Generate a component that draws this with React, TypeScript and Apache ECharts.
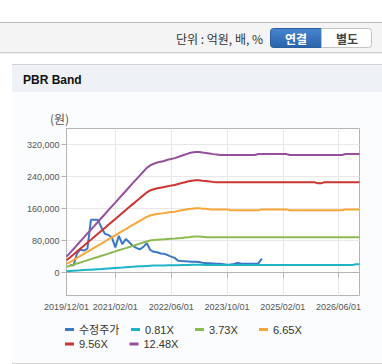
import React, { useEffect, useRef } from "react";
import * as echarts from "echarts";

// ---- categories: monthly from 2019/12 to 2026/12 ----
const START_YEAR = 2019;
const START_MONTH = 12;
const MONTH_COUNT = 85;
const CATEGORIES: string[] = [];
for (let i = 0; i < MONTH_COUNT; i++) {
  const idx = START_MONTH - 1 + i;
  const y = START_YEAR + Math.floor(idx / 12);
  const m = (idx % 12) + 1;
  CATEGORIES.push(`${y}/${m < 10 ? "0" + m : m}/01`);
}

const X_TICK_LABELS = ["2019/12/01", "2021/02/01", "2022/06/01", "2023/10/01", "2025/02/01", "2026/06/01"];
const Y_TICKS = [0, 80000, 160000, 240000, 320000];
const SERIES_NAMES = ["수정주가", "0.81X", "3.73X", "6.65X", "9.56X", "12.48X"];
const COLORS = ["#3a78c6", "#1fb3c6", "#8dbb52", "#f6a737", "#cc3530", "#954f9c"];

const PRICE = [null, 20000, 18000, 48000, 58000, 55000, 60000, 132000, 132000, 132000,
  113000, 97000, 94000, 88000, 63000, 92000, 71000, 84000, 76000, 67000,
  62000, 58000, 64000, 74000, 57000, 52000, 51000, 48000, 47000, 44000,
  40000, 37000, 30000, 29000, 28500, 28000, 27500, 27000, 26500, 25000,
  24000, 23500, 23000, 22500, 22000, 21000, 20000, 20500, 22000, 24000,
  23000, 22500, 22500, 22500, 22500, 23000, 35000];

const BAND_081 = [3500, 4100, 4700, 5300, 5800, 6400, 7000, 7600, 8200, 8800,
  9300, 9900, 10500, 11100, 11700, 12300, 12800, 13400, 14000, 14600,
  15200, 15800, 16300, 16900, 17500, 17700, 17900, 18000, 18100, 18300,
  18400, 18600, 18800, 19000, 19200, 19400, 19500, 19600, 19600, 19500,
  19200, 19200, 19200, 19200, 19200, 19200, 19200, 19200, 19200, 19200,
  19200, 19200, 19200, 19200, 19200, 19200, 19200, 19200, 19200, 19200,
  19200, 19200, 19200, 19200, 19200, 19200, 19200, 19200, 19200, 19200,
  19200, 19200, 19200, 19200, 19200, 19200, 19200, 19200, 19200, 19200,
  19200, 19200, 19200, 21000, 21000];

const BAND_373 = [14500, 17300, 20000, 22800, 25500, 28300, 31100, 33800, 36600, 39300,
  42100, 44900, 47600, 50400, 53100, 55900, 58700, 61400, 64200, 66900,
  69700, 72500, 75200, 78000, 80500, 81500, 82300, 82900, 83400, 84000,
  84600, 85100, 85900, 86700, 87600, 88500, 89500, 90500, 90500, 89500,
  88500, 88500, 88500, 88500, 88500, 88500, 88500, 88500, 88500, 88500,
  88500, 88500, 88500, 88500, 88500, 88500, 88500, 88500, 88500, 88500,
  88500, 88500, 88500, 88500, 88500, 88500, 88500, 88500, 88500, 88500,
  88500, 88500, 88500, 88500, 88500, 88500, 88500, 88500, 88500, 88500,
  88500, 88500, 88500, 88500, 88500];

const BAND_665 = [22000, 26400, 31400, 36800, 41800, 46900, 52200, 57300, 62400, 67700,
  72800, 77800, 83100, 88200, 93300, 98600, 103700, 108700, 114100, 119100,
  124200, 129300, 134300, 139400, 142800, 145000, 146600, 147600, 148700, 150300,
  151400, 152400, 154000, 155600, 157200, 158800, 159900, 160700, 160700, 159900,
  159400, 158600, 158000, 158000, 158000, 158000, 158000, 156000, 156000, 156000,
  156000, 156000, 156000, 156000, 156000, 156000, 158000, 158000, 158000, 158000,
  158000, 158000, 158000, 158000, 156000, 156000, 156000, 156000, 156000, 156000,
  156000, 156000, 156000, 156000, 156000, 156000, 156000, 156000, 156000, 156000,
  158000, 158000, 158000, 158000, 158000];

const BAND_956 = [31000, 37900, 45200, 52900, 60100, 67400, 75100, 82300, 89600, 97300,
  104600, 111800, 119500, 126800, 134000, 141700, 149000, 156300, 163900, 171200,
  178500, 185800, 193000, 200300, 205300, 208400, 210700, 212200, 213700, 216000,
  217500, 219100, 221400, 223700, 226000, 228300, 229800, 230900, 230900, 229800,
  229000, 227900, 226700, 226000, 226000, 226000, 226000, 226000, 226000, 226000,
  226000, 226000, 226000, 226000, 226000, 226000, 226000, 226000, 226000, 226000,
  226000, 226000, 226000, 226000, 226000, 226000, 226000, 226000, 226000, 226000,
  226000, 226000, 223000, 223000, 226000, 226000, 226000, 226000, 226000, 226000,
  226000, 226000, 226000, 226000, 226000];

const BAND_1248 = [40000, 49500, 59000, 69000, 78500, 88000, 98000, 107500, 117000, 127000,
  136500, 146000, 156000, 165500, 175000, 185000, 194500, 204000, 214000, 223500,
  233000, 242500, 252000, 261500, 268000, 272000, 275000, 277000, 279000, 282000,
  284000, 286000, 289000, 292000, 295000, 298000, 300000, 301500, 301500, 300000,
  299000, 297500, 296000, 295000, 294000, 294000, 294000, 294000, 294000, 294000,
  294000, 294000, 294000, 294000, 294000, 296500, 296500, 296500, 296500, 296500,
  296500, 296500, 296500, 296500, 294000, 294000, 294000, 294000, 294000, 294000,
  294000, 294000, 294000, 294000, 294000, 294000, 294000, 294000, 294000, 294000,
  296500, 296500, 296500, 296500, 296500];

const SERIES_DATA = [PRICE, BAND_081, BAND_373, BAND_665, BAND_956, BAND_1248];

// legend cell positions (icon left, row top)
const LEGEND_POS = [
  [65, 323.5], [131, 323.5], [195, 323.5], [259, 323.5],
  [65, 338], [129.5, 338],
];

const FONT = "'Liberation Sans', Arial, 'Noto Sans CJK KR', sans-serif";
const KFONT = "'Noto Sans CJK KR', 'Liberation Sans', sans-serif";

export default function App() {
  const ref = useRef<HTMLDivElement>(null);

  useEffect(() => {
    if (!ref.current) return;
    const chart = echarts.init(ref.current, undefined, { renderer: "svg" });
    const isTick = (_i: number, v: string) => X_TICK_LABELS.indexOf(v) >= 0;

    const option: any = {
      animation: false,
      backgroundColor: "#ffffff",
      grid: {
        left: 66.5,
        right: 22.5,
        top: 128.5,
        bottom: 68.5,
        show: true,
        borderColor: "#b4b4b4",
        borderWidth: 1,
        backgroundColor: "#ffffff",
        containLabel: false,
      },
      xAxis: {
        type: "category",
        data: CATEGORIES,
        boundaryGap: false,
        axisLine: { show: true, lineStyle: { color: "#b4b4b4", width: 1 } },
        axisTick: { show: true, interval: isTick, length: 5, inside: false, lineStyle: { color: "#b4b4b4" } },
        axisLabel: {
          interval: isTick,
          margin: 7,
          fontSize: 9,
          color: "#555",
          fontFamily: FONT,
        },
        splitLine: { show: true, interval: isTick, lineStyle: { color: "#e6e6e6", width: 1 } },
      },
      yAxis: {
        type: "value",
        min: -57000,
        max: 360000,
        axisLine: { show: true, lineStyle: { color: "#b4b4b4", width: 1 } },
        axisTick: { show: true, length: 5, customValues: Y_TICKS, lineStyle: { color: "#b4b4b4" } },
        axisLabel: {
          customValues: Y_TICKS,
          margin: 7,
          fontSize: 9,
          color: "#555",
          fontFamily: FONT,
          formatter: (v: number) => v.toLocaleString("en-US"),
        },
        splitLine: { show: true, lineStyle: { color: "#e8e8e8", width: 1 } },
      },
      legend: SERIES_NAMES.map((name, i) => ({
        show: true,
        data: [name],
        left: LEGEND_POS[i][0],
        top: LEGEND_POS[i][1],
        padding: 0,
        icon: "rect",
        itemWidth: 9,
        itemHeight: 3,
        itemGap: 0,
        textStyle: { fontSize: 11, lineHeight: 12, height: 12, color: "#333", fontFamily: FONT },
      })),
      series: SERIES_NAMES.map((name, i) => ({
        name,
        type: "line",
        data: SERIES_DATA[i],
        symbol: "none",
        showSymbol: false,
        connectNulls: false,
        color: COLORS[i],
        lineStyle: { color: COLORS[i], width: 2 },
      })),
      graphic: [
        // top bar
        { type: "rect", z: -10, shape: { x: 0, y: 22, width: 382, height: 31 }, style: { fill: "#f4f4f4" } },
        { type: "line", z: -9, shape: { x1: 0, y1: 22.5, x2: 382, y2: 22.5 }, style: { stroke: "#b8b8b8", lineWidth: 1 } },
        { type: "line", z: -9, shape: { x1: 0, y1: 52.5, x2: 382, y2: 52.5 }, style: { stroke: "#cfcfcf", lineWidth: 1 } },
        { type: "line", z: -9, shape: { x1: 0, y1: 53.5, x2: 382, y2: 53.5 }, style: { stroke: "#ececec", lineWidth: 1 } },
        {
          type: "text", z: 10, x: 263, y: 38,
          style: { text: "단위 : 억원, 배, %", textAlign: "right", textVerticalAlign: "middle", fontSize: 12, fill: "#333", fontFamily: KFONT },
        },
        {
          type: "rect", z: 5, shape: { x: 270.5, y: 28.5, width: 51, height: 19, r: [3, 0, 0, 3] },
          style: {
            fill: new echarts.graphic.LinearGradient(0, 0, 0, 1, [
              { offset: 0, color: "#4686cf" },
              { offset: 1, color: "#2a64ab" },
            ]),
            stroke: "#2a5e9f", lineWidth: 1,
          },
        },
        {
          type: "text", z: 10, x: 296, y: 38,
          style: { text: "연결", textAlign: "center", textVerticalAlign: "middle", fontSize: 12, fontWeight: "bold", fill: "#ffffff", fontFamily: KFONT },
        },
        {
          type: "rect", z: 5, shape: { x: 321.5, y: 28.5, width: 50, height: 19, r: [0, 3, 3, 0] },
          style: { fill: "#ffffff", stroke: "#c4c4c4", lineWidth: 1 },
        },
        {
          type: "text", z: 10, x: 347, y: 38,
          style: { text: "별도", textAlign: "center", textVerticalAlign: "middle", fontSize: 12, fontWeight: "bold", fill: "#444", fontFamily: KFONT },
        },
        // panel
        { type: "rect", z: -10, shape: { x: 12, y: 92, width: 370, height: 271 }, style: { fill: "#fbfcfd" } },
        { type: "rect", z: -10, shape: { x: 12, y: 64, width: 370, height: 28 }, style: { fill: "#eef2f7" } },
        { type: "line", z: -9, shape: { x1: 12, y1: 64.5, x2: 382, y2: 64.5 }, style: { stroke: "#d2d2d2", lineWidth: 1 } },
        { type: "line", z: -9, shape: { x1: 12, y1: 363.5, x2: 382, y2: 363.5 }, style: { stroke: "#d2d2d2", lineWidth: 1 } },
        {
          type: "text", z: 10, x: 23, y: 79.5,
          style: { text: "PBR Band", textVerticalAlign: "middle", fontSize: 12, fontWeight: "bold", fill: "#111", fontFamily: FONT },
        },
        {
          type: "text", z: 10, x: 50, y: 118,
          style: { text: "(원)", textVerticalAlign: "middle", fontSize: 12, fill: "#555", fontFamily: KFONT },
        },
      ],
    };

    chart.setOption(option);
    return () => chart.dispose();
  }, []);

  return (
    <div
      ref={ref}
      style={{ position: "fixed", left: 0, top: 0, width: 382, height: 364 }}
    />
  );
}
